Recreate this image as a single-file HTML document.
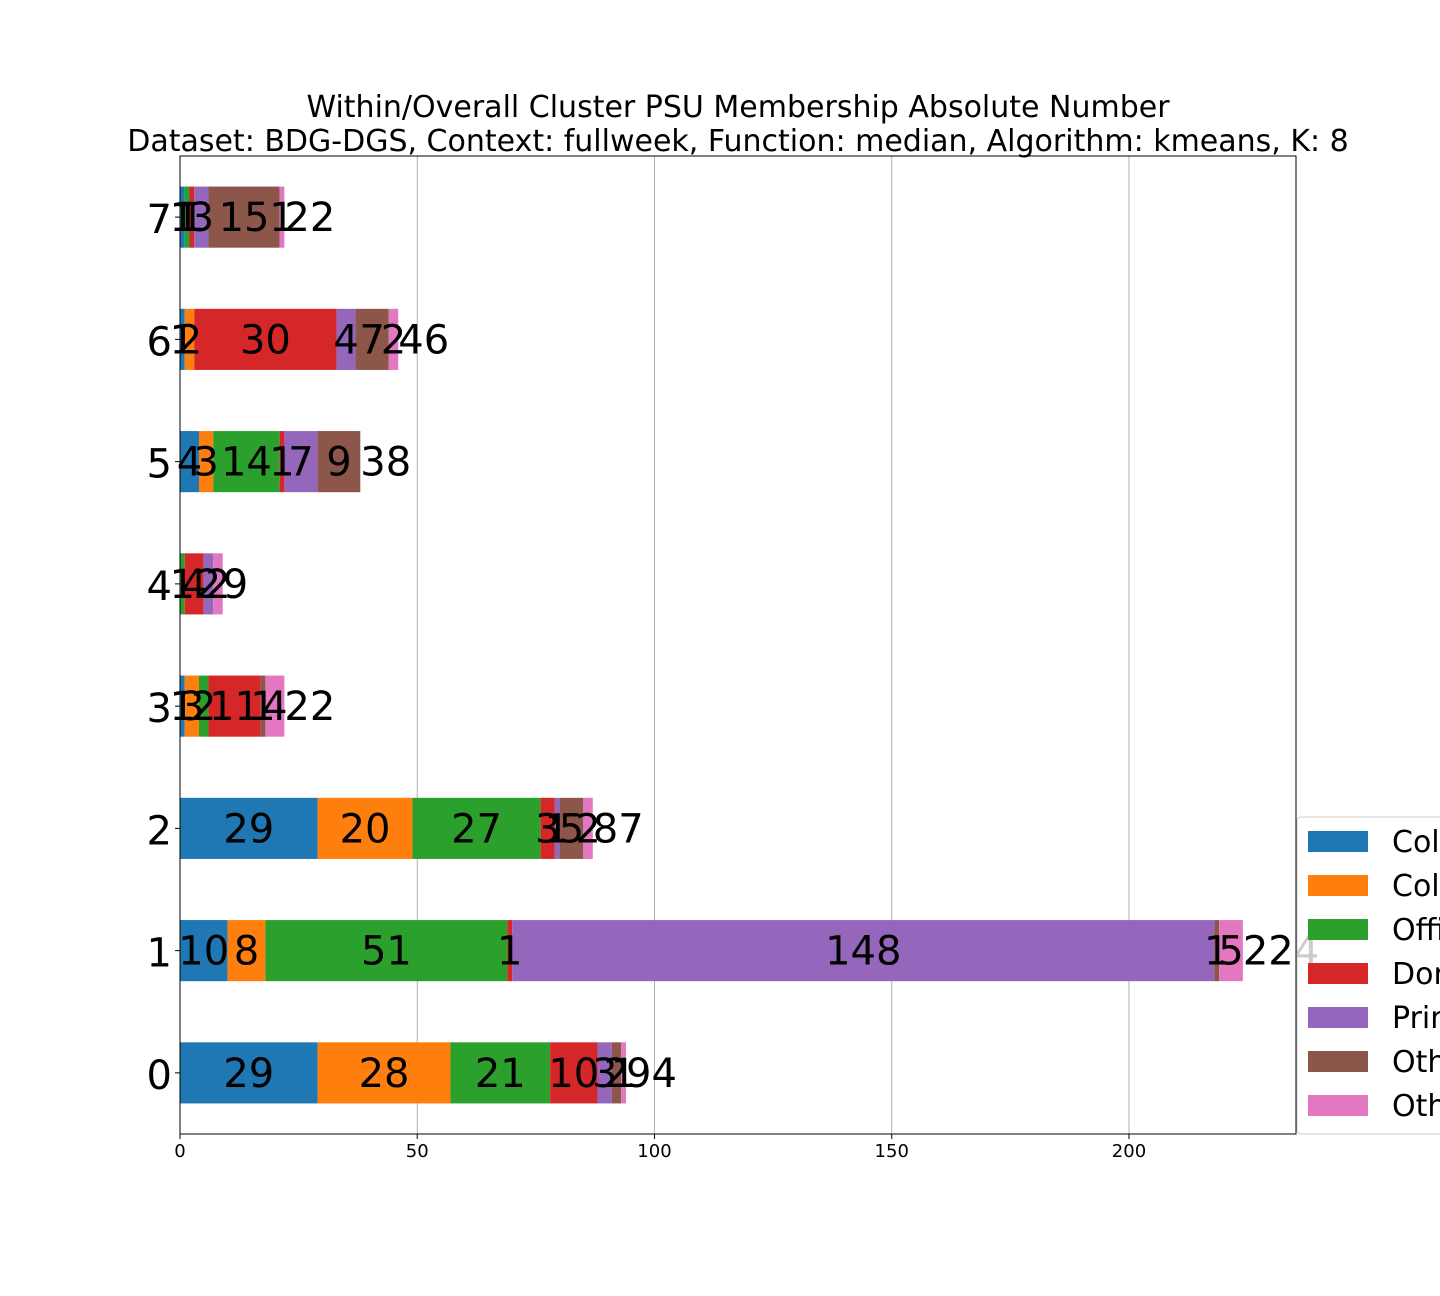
<!DOCTYPE html>
<html><head><meta charset="utf-8"><style>
html,body{margin:0;padding:0;background:#fff;overflow:hidden}
svg{display:block;font-family:"DejaVu Sans","Liberation Sans",sans-serif}
</style></head><body>
<svg id="chart" width="1440" height="1296" xmlns="http://www.w3.org/2000/svg">
<text x="738" y="117" font-size="30" text-anchor="middle">Within/Overall Cluster PSU Membership Absolute Number</text>
<text x="738" y="151" font-size="30" text-anchor="middle">Dataset: BDG-DGS, Context: fullweek, Function: median, Algorithm: kmeans, K: 8</text>
<g id="grid"></g><g id="bars"></g><g id="labels"></g><g id="axes"></g><g id="legend"></g>
</svg>
<script>
const categories = ["0","1","2","3","4","5","6","7"];
const seriesNames = ["College A","College B","Office","Dormitory","Primary","Other A","Other B"];
const colors = ["#1f77b4","#ff7f0e","#2ca02c","#d62728","#9467bd","#8c564b","#e377c2"];
const blue   = [29,10,29,1,0,4,1,1];
const orange = [28,8,20,3,0,3,2,0];
const green  = [21,51,27,2,1,14,0,1];
const red    = [10,1,3,11,4,1,30,1];
const purple = [3,148,1,0,2,7,4,3];
const brown  = [2,1,5,1,0,9,7,15];
const pink   = [1,5,2,4,2,0,2,1];
const xTicks = [0,50,100,150,200];
const series = [blue,orange,green,red,purple,brown,pink];
const NS="http://www.w3.org/2000/svg";
const L=180,R=1296,T=156,B=1134;
const totals=categories.map((c,i)=>series.reduce((s,a)=>s+a[i],0));
const xMax=Math.max(...totals)*1.05;
const x=v=>L+v/xMax*(R-L);
const step=(B-T)/categories.length;
const yC=i=>B-step*(i+0.5);
const bh=step*0.5;
function mk(tag,attrs,parent){const e=document.createElementNS(NS,tag);for(const k in attrs)e.setAttribute(k,attrs[k]);parent.appendChild(e);return e;}
const grid=document.getElementById('grid'),bars=document.getElementById('bars'),labels=document.getElementById('labels'),axes=document.getElementById('axes'),leg=document.getElementById('legend');
xTicks.forEach(t=>{
  const g=mk('line',{x1:x(t),x2:x(t),y1:T,y2:B,stroke:'#b0b0b0','stroke-width':1},grid);
  
  
  const tk=mk('line',{x1:x(t),x2:x(t),y1:B,y2:B+5,stroke:'#000'},axes);
  
  
  const tl=mk('text',{x:x(t),y:B+23,'font-size':18,'text-anchor':'middle'},axes);
  tl.textContent=t;
  
  
});
categories.forEach((c,i)=>{
  let acc=0;
  series.forEach((s,k)=>{
    const v=s[i];
    if(v>0){
      const r=mk('rect',{x:x(acc),y:yC(i)-bh/2,width:x(acc+v)-x(acc),height:bh,fill:colors[k]},bars);
      
      
      const t=mk('text',{x:(x(acc)+x(acc+v))/2,y:yC(i)+14,'font-size':40,'text-anchor':'middle'},labels);
      t.textContent=v;
      
      
    }
    acc+=v;
  });
  const tt=mk('text',{x:x(totals[i]),y:yC(i)+14,'font-size':40},labels);
  tt.textContent=totals[i];
  
  
  const tk=mk('line',{x1:L-5,x2:L,y1:yC(i),y2:yC(i),stroke:'#000'},axes);
  
  
  const yl=mk('text',{x:L-8,y:yC(i)+16,'font-size':40,'text-anchor':'end'},axes);
  yl.textContent=c;
  
  
});
const frame=mk('rect',{x:L,y:T,width:R-L,height:B-T,fill:'none',stroke:'#000','stroke-width':1},axes);


const lb=mk('rect',{x:1297,y:817,width:200,height:317,rx:4,fill:'#fff','fill-opacity':0.8,stroke:'#ccc'},leg);


seriesNames.forEach((n,k)=>{
  const cy=841+k*44;
  const sw=mk('rect',{x:1308,y:cy-10,width:60,height:21,fill:colors[k]},leg);
  
  
  const t=mk('text',{x:1392,y:cy+11,'font-size':30},leg);
  t.textContent=n;
  
  
});
</script>
</body></html>
